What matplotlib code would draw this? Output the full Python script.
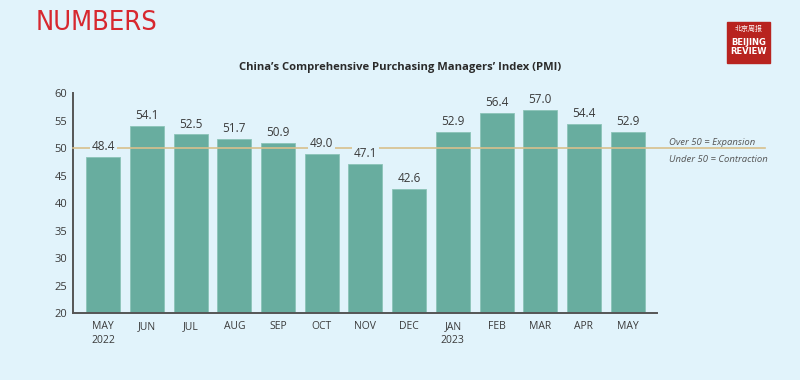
import matplotlib
matplotlib.use("Agg")
import matplotlib.pyplot as plt
from matplotlib.patches import Rectangle

# Data
months = ["MAY\n2022", "JUN", "JUL", "AUG", "SEP", "OCT", "NOV", "DEC",
          "JAN\n2023", "FEB", "MAR", "APR", "MAY"]
pmi = [48.4, 54.1, 52.5, 51.7, 50.9, 49.0, 47.1, 42.6, 52.9, 56.4, 57.0, 54.4, 52.9]
threshold = 50
yticks = [20, 25, 30, 35, 40, 45, 50, 55, 60]

bg = "#e1f3fb"
bar_col = "#68ad9f"
line_col = "#d8c08c"
text_col = "#3a3a3a"

fig = plt.figure(figsize=(8, 3.8), dpi=100, facecolor=bg)
ax = fig.add_axes([0.09125, 0.176, 0.73, 0.579], facecolor=bg)

x = range(len(months))
bars = ax.bar(x, pmi, width=0.78, color=bar_col, edgecolor="#8cc4b8", linewidth=0.6, zorder=2)
for xi, v in zip(x, pmi):
    ax.text(xi, v + 0.7, f"{v:.1f}", ha="center", va="bottom", fontsize=8.5, color=text_col,
            family="Open Sans", zorder=4,
            bbox=dict(boxstyle="square,pad=0.15", fc=bg, ec="none"))

ax.axhline(threshold, xmin=0, xmax=1.185, color=line_col, lw=1.2, clip_on=False, zorder=3)
ax.text(1.02, 0.775, "Over 50 = Expansion", transform=ax.transAxes, fontsize=6.8,
        style="italic", color="#555555", va="center", family="Open Sans")
ax.text(1.02, 0.70, "Under 50 = Contraction", transform=ax.transAxes, fontsize=6.8,
        style="italic", color="#555555", va="center", family="Open Sans")

ax.set_ylim(20, 60)
ax.set_xlim(-0.69, 12.67)
ax.set_yticks(yticks)
ax.set_xticks(list(x))
ax.set_xticklabels(months, fontsize=7.5, color=text_col, family="Open Sans", linespacing=1.3)
ax.tick_params(axis="y", length=0, labelsize=8, labelcolor=text_col, pad=4)
ax.tick_params(axis="x", length=0, pad=6)
for lab in ax.get_yticklabels():
    lab.set_family("Open Sans")
for s in ["top", "right"]:
    ax.spines[s].set_visible(False)
for s in ["left", "bottom"]:
    ax.spines[s].set_color("#555555")
    ax.spines[s].set_linewidth(1.4)

fig.text(0.5, 0.822, "China\u2019s Comprehensive Purchasing Managers\u2019 Index (PMI)",
         ha="center", va="center", fontsize=8.1, fontweight="bold", color="#2a2a2a",
         family="Open Sans")

fig.text(0.044, 0.94, "NUMBERS", ha="left", va="center", fontsize=19.5, color="#d7282f",
         family="DejaVu Sans", fontstretch="condensed")

# logo
fig.patches.append(Rectangle((727 / 800, 1 - 63 / 380), 43 / 800, 41 / 380,
                             transform=fig.transFigure, color="#b8231f", zorder=5))
fig.text(748.5 / 800, 1 - 29 / 380, "北京周报", ha="center", va="center", fontsize=5,
         color="white", family=["Noto Sans CJK SC", "DejaVu Sans"], zorder=6)
fig.text(748.5 / 800, 1 - 47 / 380, "BEIJING\nREVIEW", ha="center", va="center", fontsize=6,
         color="white", fontweight="bold", linespacing=0.95, family="DejaVu Sans Condensed", zorder=6)

fig.savefig("out.png", dpi=100, facecolor=bg)
